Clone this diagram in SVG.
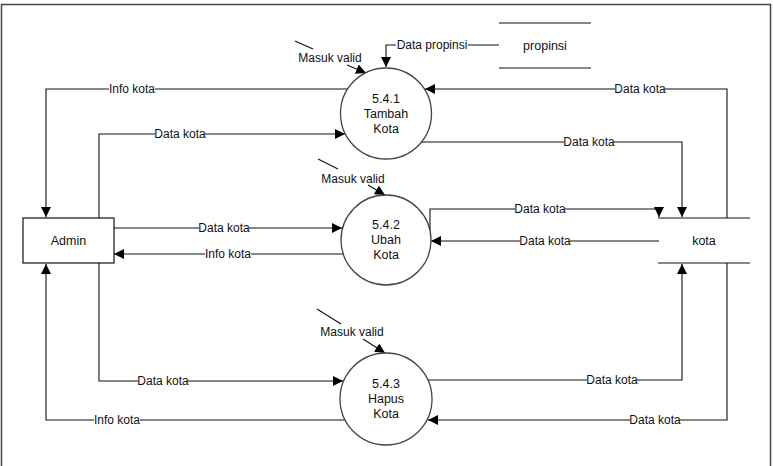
<svg xmlns="http://www.w3.org/2000/svg" width="773" height="466" viewBox="0 0 773 466">
<defs>
<marker id="arr" markerUnits="userSpaceOnUse" markerWidth="10" markerHeight="10" refX="10" refY="5" orient="auto" viewBox="0 0 10 10">
<path d="M0,0 L10,5 L0,10 z" fill="#000"/>
</marker>
<style>
text{font-family:"Liberation Sans",Arial,sans-serif;font-size:12px;fill:#111;text-anchor:middle}
.ct{font-size:12.5px}
.ln{fill:none;stroke:#111;stroke-width:1.1}
.lb{fill:#fff;stroke:none}
.proc{fill:#fff;stroke:#444;stroke-width:1.3}
.store{stroke:#111;stroke-width:1.2}
</style>
</defs>
<rect width="773" height="466" fill="#fff"/>
<rect x="1.5" y="4.5" width="769" height="475" fill="none" stroke="#444" stroke-width="1.5"/>

<g id="connectors">
<path class="ln" d="M348,89 H46 V217" marker-end="url(#arr)"/>
<rect class="lb" x="109" y="82" width="46" height="14"/><text x="132" y="93">Info kota</text>
<path class="ln" d="M99,218 V134 H345" marker-end="url(#arr)"/>
<rect class="lb" x="155" y="127" width="50" height="14"/><text x="180" y="138">Data kota</text>
<path class="ln" d="M114,228 H342" marker-end="url(#arr)"/>
<rect class="lb" x="199" y="221" width="50" height="14"/><text x="224" y="232">Data kota</text>
<path class="ln" d="M343,254 H114" marker-end="url(#arr)"/>
<rect class="lb" x="205" y="247" width="46" height="14"/><text x="228" y="258">Info kota</text>
<path class="ln" d="M99,263 V381 H343" marker-end="url(#arr)"/>
<rect class="lb" x="138" y="374" width="50" height="14"/><text x="163" y="385">Data kota</text>
<path class="ln" d="M345,420 H46 V264" marker-end="url(#arr)"/>
<rect class="lb" x="94" y="413" width="46" height="14"/><text x="117" y="424">Info kota</text>
<path class="ln" d="M727,218 V89 H425" marker-end="url(#arr)"/>
<rect class="lb" x="615" y="82" width="50" height="14"/><text x="640" y="93">Data kota</text>
<path class="ln" d="M421,142 H682 V217" marker-end="url(#arr)"/>
<rect class="lb" x="564" y="135" width="50" height="14"/><text x="589" y="146">Data kota</text>
<path class="ln" d="M430,231 V209 H659 V217" marker-end="url(#arr)"/>
<rect class="lb" x="515" y="202" width="50" height="14"/><text x="540" y="213">Data kota</text>
<path class="ln" d="M659,241 H431" marker-end="url(#arr)"/>
<rect class="lb" x="520" y="234" width="50" height="14"/><text x="545" y="245">Data kota</text>
<path class="ln" d="M428,380 H682 V264" marker-end="url(#arr)"/>
<rect class="lb" x="587" y="373" width="50" height="14"/><text x="612" y="384">Data kota</text>
<path class="ln" d="M727,263 V420 H428" marker-end="url(#arr)"/>
<rect class="lb" x="630" y="413" width="50" height="14"/><text x="655" y="424">Data kota</text>
<path class="ln" d="M499,45 H386 V67" marker-end="url(#arr)"/>
<rect class="lb" x="396" y="38" width="72" height="14"/><text x="432" y="49">Data propinsi</text>
<path class="ln" d="M295,41 L313,49"/>
<text x="330" y="62">Masuk valid</text>
<path class="ln" d="M347,65 L366,73" marker-end="url(#arr)"/>
<path class="ln" d="M318,159 L338,169"/>
<text x="353" y="183">Masuk valid</text>
<path class="ln" d="M368,185 L385,195" marker-end="url(#arr)"/>
<path class="ln" d="M317,309 L341,324"/>
<text x="352" y="336">Masuk valid</text>
<path class="ln" d="M363,339 L385,353" marker-end="url(#arr)"/>
</g>

<g id="admin">
<rect x="23" y="218" width="91" height="45" fill="#fff" stroke="#111" stroke-width="1.2"/>
<text class="ct" x="68.5" y="245">Admin</text>
</g>
<g id="p541">
<circle class="proc" cx="386" cy="113.5" r="45.5"/>
<text class="ct" x="386" y="103">5.4.1</text>
<text class="ct" x="386" y="118">Tambah</text>
<text class="ct" x="386" y="133">Kota</text>
</g>
<g id="p542">
<circle class="proc" cx="386" cy="240" r="45"/>
<text class="ct" x="386" y="229">5.4.2</text>
<text class="ct" x="386" y="244">Ubah</text>
<text class="ct" x="386" y="259">Kota</text>
</g>
<g id="p543">
<circle class="proc" cx="386" cy="399" r="46"/>
<text class="ct" x="386" y="388">5.4.3</text>
<text class="ct" x="386" y="403">Hapus</text>
<text class="ct" x="386" y="418">Kota</text>
</g>
<g id="kota">
<line class="store" x1="658" y1="218" x2="750" y2="218"/>
<line class="store" x1="658" y1="263" x2="750" y2="263"/>
<text class="ct" x="704" y="245">kota</text>
</g>
<g id="propinsi">
<line class="store" x1="499" y1="23" x2="591" y2="23"/>
<line class="store" x1="499" y1="68" x2="591" y2="68"/>
<text class="ct" x="545" y="50">propinsi</text>
</g>
</svg>
